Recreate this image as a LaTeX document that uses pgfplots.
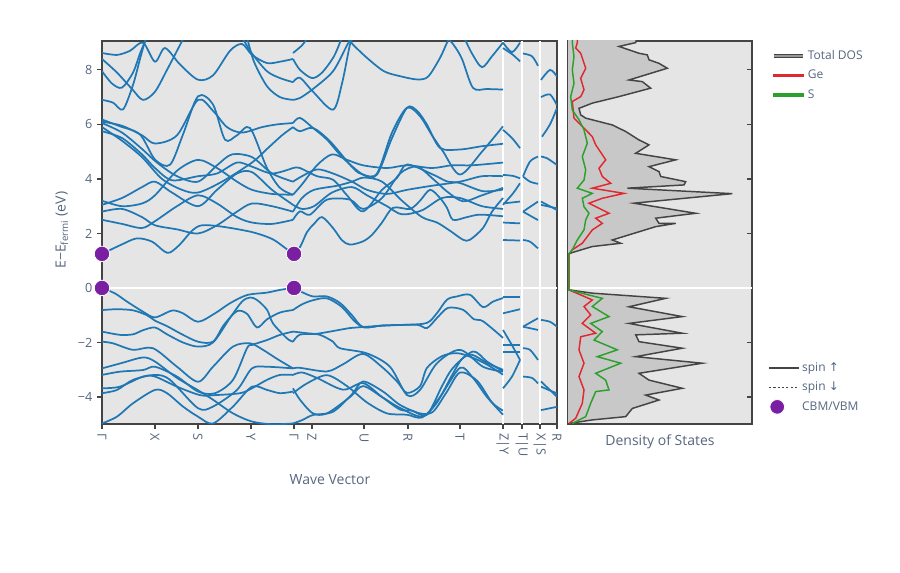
\documentclass[border=0pt]{standalone}
\usepackage{fontspec}
\setmainfont{Open Sans}
\newfontfamily\dejavu{DejaVu Sans}
\usepackage{pgfplots}
\pgfplotsset{compat=1.18}
\definecolor{bandc}{HTML}{1F77B4}
\definecolor{bgc}{HTML}{E5E5E5}
\definecolor{framec}{HTML}{444444}
\definecolor{txt}{HTML}{56657F}
\definecolor{dotc}{HTML}{7B1FA2}
\definecolor{dosfill}{HTML}{C8C8C8}
\definecolor{dosline}{HTML}{444444}
\definecolor{gecol}{RGB}{224,40,46}
\definecolor{scol}{RGB}{44,160,44}
\begin{document}
\begin{tikzpicture}
\useasboundingbox (0,0) rectangle (675pt,429pt);
\pgfplotsset{
 common/.style={scale only axis, height=287.25pt, ymin=-4.99, ymax=9.06,
   axis background/.style={fill=bgc},
   axis line style={draw=framec, line width=1.1pt},
   tick style={draw=framec, line width=0.9pt},
   ticklabel style={font=\fontsize{9.5}{11}\selectfont, text=txt},
   label style={font=\fontsize{10.5}{12}\selectfont, text=txt},
   ytick={-4,-2,0,2,4,6,8},
   extra y ticks={0}, extra y tick labels={},
   extra y tick style={grid=major, major grid style={white, line width=1.5pt}, tick style={draw=none}},
   legend style={draw=none, fill=none, font=\fontsize{9}{11}\selectfont, row sep=2.5pt,
      nodes={text=txt}},
   legend cell align=left,
   legend image code/.code={\draw[#1] (0pt,0pt) -- (22pt,0pt);},
 },
 bnd/.style={bandc, line width=1.3pt, smooth, forget plot},
}
\begin{axis}[common, at={(76.5pt,111pt)}, anchor=south west, width=341.25pt, xmin=0, xmax=455,
  xtick={0,53,96,149,192,210,262,306,358,401,420,438,455},
  xticklabels={Γ,X,S,Y,Γ,Z,U,R,T,Z|Y,T|U,X|S,R},
  xticklabel style={rotate=-90, anchor=west},
  yticklabels={−4,−2,0,2,4,6,8},
  tick align=outside, major tick length=3.75pt,
  xtick pos=bottom, ytick pos=left,
  extra x ticks={401,420,438}, extra x tick labels={},
  extra x tick style={grid=major, major grid style={white, line width=1.5pt}, tick style={draw=none}},
  ylabel={E−E\textsubscript{fermi} (eV)},
  ylabel style={at={(axis description cs:-0.088,0.506)}, anchor=center},
  xlabel={Wave Vector},
  xlabel style={at={(axis description cs:0.501,-0.146)}, anchor=center},
  legend style={at={(axis description cs:1.455,0.175)}, anchor=north west},
]
\addlegendimage{draw=dosline, line width=1.4pt}
\addlegendentry{spin {\dejavu ↑}}
\addlegendimage{draw=dosline, line width=1.4pt, dash pattern=on 1.6pt off 1.6pt}
\addlegendentry{spin {\dejavu ↓}}
\addlegendimage{legend image code/.code={\fill[dotc, draw=white, line width=0.6pt] (6pt,0pt) circle (5.5pt);}}
\addlegendentry{CBM/VBM}
% ---- left half conduction
\addplot[bnd] coordinates {(0,1.25)(20,1.6)(35,1.82)(50,1.7)(62,1.35)(68,1.3)(78,1.6)(90,2.1)(100,2.3)(120,2.25)(150,2.05)(170,1.8)(182,1.5)(191,1.25)};
\addplot[bnd] coordinates {(0,2.5)(20,2.35)(40,2.2)(53,2.45)(75,3.0)(96,3.4)(115,3.1)(135,2.6)(150,2.4)(170,2.35)(191,2.5)};
\addplot[bnd] coordinates {(0,2.8)(20,2.9)(40,2.6)(53,2.3)(75,2.15)(96,2.0)(115,2.3)(135,2.8)(150,3.1)(170,3.0)(191,2.8)};
\addplot[bnd] coordinates {(0,3.05)(20,3.3)(40,3.7)(53,3.9)(70,3.5)(96,3.0)(115,3.6)(135,4.2)(150,4.25)(170,3.6)(191,3.05)};
\addplot[bnd] coordinates {(0,3.2)(20,3.0)(40,3.1)(53,3.4)(75,4.3)(96,4.7)(115,4.4)(135,3.9)(150,3.6)(170,3.45)(191,3.42)};
\addplot[bnd] coordinates {(0,6.18)(18,5.93)(38,5.63)(53,4.71)(68,4.52)(81,5.63)(96,7.03)(111,6.73)(123,5.44)(135,5.6)(148,5.87)(165,4.40)(178,3.67)(191,3.42)};
\addplot[bnd] coordinates {(0,6.05)(20,5.7)(40,5.1)(55,4.6)(75,4.1)(96,3.9)(115,4.5)(130,4.9)(150,4.8)(170,4.2)(191,3.9)};
\addplot[bnd] coordinates {(0,5.9)(20,5.4)(40,4.8)(60,4.0)(80,3.6)(96,3.5)(120,3.9)(150,4.6)(165,5.1)(180,5.6)(191,5.9)};
\addplot[bnd] coordinates {(0,5.75)(20,5.5)(40,4.9)(53,4.4)(70,3.95)(96,4.1)(115,4.2)(135,4.6)(150,4.45)(170,4.2)(191,4.4)};
\addplot[bnd] coordinates {(0,6.1)(20,5.95)(40,5.6)(53,5.3)(75,5.6)(96,6.9)(111,6.5)(125,5.9)(140,5.7)(160,5.9)(175,6.0)(191,6.05)};
\addplot[bnd] coordinates {(0,8.62)(15,8.55)(28,8.7)(41,9.0)(53,8.3)(63,8.8)(78,8.2)(96,7.64)(111,7.8)(128,8.7)(140,8.95)(150,8.55)(165,8.25)(178,8.3)(191,8.4)};
\addplot[bnd] coordinates {(0,7.95)(10,7.5)(20,7.35)(31,7.9)(38,8.6)(45,9.2)};
\addplot[bnd] coordinates {(140,9.2)(150,8.6)(165,7.95)(178,7.7)(191,7.55)};
\addplot[bnd] coordinates {(0,6.9)(11,6.8)(21,6.55)(31,7.45)(38,8.4)(44,9.2)};
\addplot[bnd] coordinates {(145,9.2)(152,8.3)(165,7.4)(178,7.0)(191,6.9)};
\addplot[bnd] coordinates {(0,8.4)(15,7.9)(30,7.3)(41,6.9)(53,7.2)(65,8.0)(75,8.7)(82,9.2)};
% ---- right half conduction
\addplot[bnd] coordinates {(191,1.25)(198,1.5)(205,2.05)(212,2.35)(220,2.6)(231,2.2)(240,1.75)(248,1.59)(261,1.71)(270,1.95)(280,2.4)(291,2.94)(308,2.9)(318,3.2)(328,3.6)(338,3.3)(345,2.94)(351,2.5)(365,2.6)(378,2.69)(401,2.63)};
\addplot[bnd] coordinates {(191,2.5)(198,2.81)(208,2.69)(225,3.24)(248,3.24)(261,2.9)(280,3.3)(298,4.2)(315,4.45)(331,4.0)(345,3.54)(361,3.18)(380,3.4)(401,3.67)};
\addplot[bnd] coordinates {(191,2.8)(200,3.3)(212,3.6)(235,3.75)(250,3.9)(262,4.05)(280,3.9)(300,3.2)(320,2.6)(335,2.4)(348,2.1)(361,1.77)(368,1.77)(381,2.2)(390,2.8)(401,3.3)};
\addplot[bnd] coordinates {(191,3.05)(200,2.9)(212,3.0)(230,3.5)(250,3.7)(265,3.4)(285,3.0)(300,2.7)(320,2.85)(340,3.3)(358,3.3)(380,3.0)(401,2.9)};
\addplot[bnd] coordinates {(191,3.42)(200,3.8)(215,4.5)(230,4.9)(245,4.7)(261,4.5)(285,4.4)(305,4.5)(330,4.4)(350,4.5)(370,4.5)(401,4.6)};
\addplot[bnd] coordinates {(191,3.9)(200,4.1)(215,4.35)(231,4.2)(250,3.9)(265,3.6)(285,3.45)(305,3.6)(330,3.75)(358,3.9)(380,4.1)(401,4.1)};
\addplot[bnd] coordinates {(191,4.4)(198,4.4)(215,4.1)(231,3.97)(245,3.4)(261,2.81)(280,3.6)(295,4.04)(305,4.53)(331,4.16)(345,3.91)(358,3.85)(381,3.55)(401,3.61)};
\addplot[bnd] coordinates {(191,6.05)(198,6.24)(211,5.87)(225,5.44)(241,4.77)(261,4.16)(275,4.16)(290,5.5)(305,6.61)(315,6.5)(325,5.99)(338,5.14)(358,5.08)(380,5.2)(401,5.29)};
\addplot[bnd] coordinates {(191,5.9)(198,5.75)(211,5.87)(228,5.38)(251,4.40)(261,4.16)(275,4.2)(290,5.7)(305,6.61)(318,6.3)(330,5.6)(341,5.01)(358,4.16)(380,5.0)(401,5.93)};
\addplot[bnd] coordinates {(191,6.9)(198,6.97)(211,7.3)(231,7.95)(245,8.9)(250,9.2)};
\addplot[bnd] coordinates {(191,7.55)(198,7.71)(211,7.2)(231,6.54)(240,7.5)(248,8.93)(252,9.2)};
\addplot[bnd] coordinates {(191,8.4)(198,8.0)(210,7.7)(220,7.9)(232,8.5)(240,9.2)};
\addplot[bnd] coordinates {(245,9.2)(251,8.93)(265,8.44)(282,7.95)(298,7.77)(315,7.65)(326,7.75)(338,8.44)(345,9.0)(348,9.2)};
\addplot[bnd] coordinates {(345,9.2)(352,8.9)(360,8.4)(371,7.34)(385,7.3)(401,7.28)};
\addplot[bnd] coordinates {(362,9.2)(370,8.6)(380,8.1)(390,8.5)(401,9.0)};
\addplot[bnd] coordinates {(191,8.62)(200,8.9)(206,9.2)};
% ---- left half valence
\addplot[bnd] coordinates {(0,0)(13,-0.2)(25,-0.5)(41,-0.87)(53,-1.08)(70,-0.83)(81,-0.93)(96,-1.24)(113,-0.93)(128,-0.56)(145,-0.26)(165,-0.17)(178,-0.07)(191,0)};
\addplot[bnd] coordinates {(0,-0.81)(15,-0.78)(31,-0.82)(45,-1.0)(53,-1.2)(65,-1.4)(80,-1.7)(96,-1.97)(111,-1.97)(122,-1.35)(135,-0.85)(145,-0.95)(155,-1.45)(165,-1.15)(178,-0.9)(191,-0.81)};
\addplot[bnd] coordinates {(0,-1.6)(18,-1.72)(31,-1.7)(41,-1.55)(53,-1.45)(65,-1.7)(81,-2.0)(96,-2.15)(111,-2.0)(128,-1.1)(140,-0.5)(148,-0.35)(155,-0.44)(165,-0.8)(171,-1.3)(185,-1.85)(191,-1.97)};
\addplot[bnd] coordinates {(0,-1.97)(11,-2.03)(31,-2.27)(51,-2.21)(75,-2.89)(96,-3.44)(111,-2.89)(131,-2.15)(148,-2.03)(161,-2.27)(175,-2.6)(191,-2.95)};
\addplot[bnd] coordinates {(0,-3.19)(18,-3.07)(41,-3.01)(53,-2.89)(75,-3.25)(96,-3.8)(113,-3.86)(131,-3.37)(145,-2.21)(150,-2.09)(165,-1.91)(178,-1.72)(191,-1.6)};
\addplot[bnd] coordinates {(0,-3.68)(18,-3.62)(41,-3.25)(53,-3.25)(75,-3.62)(98,-3.93)(113,-3.93)(138,-3.86)(150,-3.68)(165,-3.37)(178,-3.19)(191,-3.19)};
\addplot[bnd] coordinates {(0,-3.86)(15,-3.74)(31,-3.37)(53,-3.19)(68,-3.37)(96,-4.41)(111,-4.35)(135,-3.74)(150,-2.95)(165,-2.89)(191,-2.95)};
\addplot[bnd] coordinates {(0,-4.97)(15,-4.72)(31,-4.23)(53,-3.74)(65,-3.86)(81,-4.35)(96,-4.72)(111,-4.97)(131,-4.35)(150,-3.62)(165,-3.74)(178,-3.86)(191,-3.8)};
\addplot[bnd] coordinates {(0,-2.95)(20,-2.75)(41,-2.55)(53,-2.7)(75,-3.3)(96,-3.75)(111,-4.1)(131,-4.6)(150,-4.9)(170,-5.0)(191,-4.97)};
% ---- right half valence
\addplot[bnd] coordinates {(191,0)(201,-0.17)(211,-0.31)(225,-0.31)(238,-0.55)(250,-1.0)(261,-1.43)(281,-1.37)(305,-1.35)(325,-1.28)(335,-0.92)(345,-0.43)(355,-0.31)(368,-0.25)(381,-0.7)(391,-0.5)(401,-0.37)};
\addplot[bnd] coordinates {(191,-1.97)(198,-1.71)(215,-1.68)(248,-1.47)(261,-1.43)(290,-1.37)(315,-1.35)(325,-1.47)(335,-1.1)(346,-0.73)(361,-0.8)(372,-1.15)(381,-1.22)(401,-1.83)};
\addplot[bnd] coordinates {(191,-1.6)(205,-1.66)(218,-1.72)(231,-1.97)(238,-2.21)(265,-2.4)(288,-2.89)(305,-3.93)(318,-3.74)(335,-2.76)(358,-2.27)(381,-2.89)(401,-3.07)};
\addplot[bnd] coordinates {(191,-0.81)(200,-0.6)(211,-0.45)(225,-0.38)(240,-0.7)(252,-1.2)(262,-1.45)(275,-1.4)};
\addplot[bnd] coordinates {(191,-2.95)(198,-2.93)(225,-3.06)(241,-2.8)(261,-2.42)(280,-2.9)(295,-3.43)(305,-3.85)(318,-3.6)(325,-2.93)(340,-2.5)(355,-2.39)(370,-2.55)(385,-2.81)(401,-3.18)};
\addplot[bnd] coordinates {(191,-3.19)(200,-3.1)(215,-3.3)(241,-3.73)(261,-3.49)(280,-4.0)(298,-4.46)(310,-4.5)(325,-4.65)(340,-3.6)(351,-2.93)(371,-2.33)(385,-2.7)(401,-3.06)};
\addplot[bnd] coordinates {(191,-3.68)(198,-4.1)(211,-4.6)(225,-4.6)(248,-4.0)(261,-3.6)(280,-4.0)(298,-4.4)(321,-4.71)(338,-4.0)(358,-2.93)(371,-3.3)(385,-4.0)(401,-4.65)};
\addplot[bnd] coordinates {(191,-3.86)(205,-3.5)(225,-3.2)(245,-3.6)(265,-4.2)(285,-4.6)(305,-4.65)(320,-4.75)(335,-4.2)(350,-3.2)(360,-2.6)(370,-2.45)(385,-2.75)(401,-3.0)};
\addplot[bnd] coordinates {(191,-4.97)(200,-4.85)(211,-4.66)(231,-4.54)(250,-3.9)(261,-3.43)(281,-3.8)(298,-4.29)(318,-4.6)(331,-4.54)(345,-3.8)(358,-3.1)(375,-3.4)(390,-4.2)(401,-4.5)};
% ---- segment Y-T
\addplot[bnd] coordinates {(401,8.8)(411,8.55)(418,8.31)};
\addplot[bnd] coordinates {(401,9.0)(410,8.65)(418,9.0)};
\addplot[bnd] coordinates {(401,5.8)(410,5.5)(418,5.13)};
\addplot[bnd] coordinates {(401,4.15)(411,4.11)(418,4.02)};
\addplot[bnd] coordinates {(401,3.05)(411,3.47)(418,3.84)};
\addplot[bnd] coordinates {(401,3.1)(418,3.17)};
\addplot[bnd] coordinates {(401,2.4)(418,2.37)};
\addplot[bnd] coordinates {(401,1.76)(418,1.74)};
\addplot[bnd] coordinates {(401,-0.32)(418,-0.32)};
\addplot[bnd] coordinates {(401,-0.93)(418,-0.78)};
\addplot[bnd] coordinates {(401,-2.09)(418,-2.09)};
\addplot[bnd] coordinates {(401,-2.34)(418,-2.34)};
\addplot[bnd] coordinates {(401,-1.54)(410,-2.1)(418,-2.64)};
\addplot[bnd] coordinates {(401,-3.68)(410,-3.25)(418,-2.64)};
% ---- segment U-X
\addplot[bnd] coordinates {(421,8.6)(430,8.5)(436,8.15)};
\addplot[bnd] coordinates {(421,4.09)(428,4.64)(436,4.82)};
\addplot[bnd] coordinates {(421,4.09)(428,3.9)(436,3.82)};
\addplot[bnd] coordinates {(421,2.8)(436,3.17)};
\addplot[bnd] coordinates {(421,2.8)(436,2.49)};
\addplot[bnd] coordinates {(421,1.76)(428,1.7)(436,1.45)};
\addplot[bnd] coordinates {(421,-1.42)(436,-1.11)};
\addplot[bnd] coordinates {(421,-1.42)(436,-1.54)};
\addplot[bnd] coordinates {(421,-2.21)(428,-2.27)(436,-2.64)};
\addplot[bnd] coordinates {(421,-3.25)(430,-3.3)(436,-3.5)};
% ---- segment S-R
\addplot[bnd] coordinates {(439,7.63)(448,8.0)(455,7.76)};
\addplot[bnd] coordinates {(439,7.0)(448,7.1)(455,6.7)};
\addplot[bnd] coordinates {(455,6.6)(448,6.0)(440,5.55)};
\addplot[bnd] coordinates {(439,4.82)(445,4.76)(455,4.51)};
\addplot[bnd] coordinates {(439,3.17)(455,2.86)};
\addplot[bnd] coordinates {(439,3.05)(455,2.92)};
\addplot[bnd] coordinates {(439,-1.17)(448,-1.24)(455,-1.42)};
\addplot[bnd] coordinates {(439,-3.43)(455,-3.99)};
\addplot[bnd] coordinates {(439,-3.62)(455,-3.87)};
\addplot[bnd] coordinates {(439,-4.48)(455,-4.36)};
% ---- CBM / VBM
\addplot[only marks, mark=*, mark size=5.8pt, mark options={fill=dotc, draw=white, line width=0.6pt}, forget plot] coordinates {(0,1.25)(0,0)(192,1.25)(192,0)};
\end{axis}
\begin{axis}[common, at={(426pt,111pt)}, anchor=south west, width=138pt, xmin=0, xmax=184,
  xtick=\empty, yticklabels={}, tick align=inside, major tick length=3.75pt,
  xlabel={Density of States},
  xlabel style={at={(axis description cs:0.5,-0.047)}, anchor=center},
  legend style={at={(axis description cs:1.087,0.99)}, anchor=north west},
]
\addplot[draw=dosline, line width=1.1pt, fill=dosfill,
  legend image code/.code={\draw[draw=dosline, line width=0.8pt, double=gray!80, double distance=1.1pt] (0pt,0pt)--(22pt,0pt);}]
  coordinates {(0,9.2)(69,9.2)(67.7,9.0)(51,8.86)(71,8.61)(79.3,8.55)(81,8.37)(91,8.24)(99.3,8.06)(61,7.63)(74.3,7.57)(82.7,7.33)(51,7.02)(24.3,6.78)(11,6.59)(12.7,6.35)(17.7,6.23)(44.3,5.98)(57.7,5.74)(71,5.43)(81,5.25)(67.7,4.94)(77.7,4.88)(107.7,4.70)(81,4.45)(91,4.27)(92.7,4.09)(117.7,3.90)(116,3.78)(59.3,3.66)(164.3,3.46)(66,3.11)(127.7,2.74)(87.7,2.56)(91,2.37)(107.7,2.37)(87.7,2.25)(44.3,1.76)(52.7,1.64)(24.3,1.52)(4.3,1.30)(1,1.25)(1,-0.07)(24.3,-0.19)(97.7,-0.38)(61,-0.69)(114.3,-1.05)(61,-1.30)(114.3,-1.66)(67.7,-1.72)(71,-1.97)(114.3,-2.21)(67.7,-2.52)(134.3,-2.76)(71,-3.13)(81,-3.38)(114.3,-3.68)(77.7,-3.93)(91,-4.11)(64.3,-4.42)(57.7,-4.72)(24.3,-4.84)(1,-4.97)(0,-4.99)};
\addlegendentry{Total DOS}
\addplot[color=gecol, line width=1.1pt,
  legend image code/.code={\fill[gecol] (0pt,-0.75pt) rectangle (22pt,0.75pt);}]
  coordinates {(9.3,9.2)(9.3,9.0)(7.7,8.80)(12.7,8.61)(17.7,8.06)(12.7,7.69)(16,7.27)(12.7,7.02)(4.3,6.84)(6,6.23)(17.7,5.80)(24.3,5.55)(27.7,5.25)(37.7,4.70)(31,4.39)(34.3,4.09)(42.7,3.84)(24.3,3.66)(56,3.47)(34.3,3.29)(21,3.11)(41,2.74)(27.7,2.56)(34.3,2.37)(24.3,2.13)(14.3,1.64)(4.3,1.40)(1,1.25)(1,-0.07)(24.3,-0.44)(16,-0.68)(22.7,-0.99)(14.3,-1.30)(27.7,-1.66)(12.7,-1.79)(11,-2.27)(16,-2.76)(11,-3.25)(16,-3.74)(14.3,-4.23)(7.7,-4.78)(1,-4.97)};
\addlegendentry{Ge}
\addplot[color=scol, line width=1.1pt,
  legend image code/.code={\fill[scol] (0pt,-0.75pt) rectangle (22pt,0.75pt);}]
  coordinates {(4.3,9.2)(4.3,9.0)(6,8.49)(4.3,8.0)(6,7.51)(2.7,7.02)(4.3,6.53)(11,6.17)(16,5.80)(19.3,5.31)(14.3,4.82)(17.7,4.33)(16,3.96)(9.3,3.66)(24.3,3.47)(14.3,3.29)(16,2.98)(21,2.74)(17.7,2.50)(16,2.13)(9.3,1.76)(4.3,1.40)(1,1.25)(1,-0.07)(21,-0.26)(34.3,-0.38)(24.3,-0.68)(41,-1.05)(22.7,-1.30)(34.3,-1.60)(26,-1.91)(49.3,-2.27)(29.3,-2.52)(52.7,-2.76)(27.7,-3.13)(37.7,-3.38)(41,-3.74)(27.7,-3.80)(22.7,-4.23)(17.7,-4.72)(4.3,-4.97)};
\addlegendentry{S}
\end{axis}
\end{tikzpicture}
\end{document}
